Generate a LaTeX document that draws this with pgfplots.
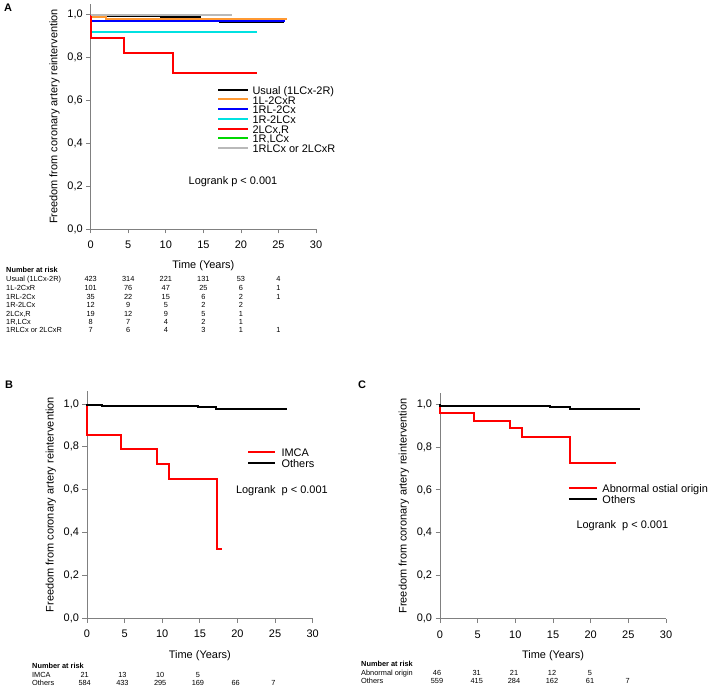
\documentclass[border=0pt]{standalone}
\usepackage{fontspec}
\setmainfont{Liberation Sans}
\usepackage{pgfplots}
\pgfplotsset{compat=1.18}
\definecolor{korange}{RGB}{255,153,51}
\definecolor{kblue}{RGB}{0,0,255}
\definecolor{kcyan}{RGB}{0,225,225}
\definecolor{kred}{RGB}{255,0,0}
\definecolor{kgreen}{RGB}{0,215,0}
\definecolor{kgray}{RGB}{185,185,185}
\newcommand{\fs}{\fontsize{11}{13}\selectfont}
\newcommand{\ts}{\fontsize{7.4}{8.6}\selectfont}
\pgfplotsset{km/.style={
 scale only axis, xmin=0, xmax=30, ymin=0,
 axis x line*=bottom, axis y line*=left,
 axis line style={black!50, line width=0.8bp},
 every tick/.style={black!50, line width=0.8bp},
 tick align=outside, major tick length=4.5bp,
 xtick={0,5,10,15,20,25,30}, ytick={0,0.2,0.4,0.6,0.8,1.0},
 tick label style={font=\fs},
 xticklabel style={yshift=-4bp},
 /pgf/number format/assume math mode=true,
 yticklabel style={/pgf/number format/.cd, fixed, fixed zerofill, precision=1, use comma},
 xlabel={Time (Years)}, ylabel={Freedom from coronary artery reintervention},
 label style={font=\fs},
 xlabel style={at={(axis description cs:0.5,-0.165)}, anchor=center},
 ylabel style={at={(axis description cs:-0.16,0.5)}, anchor=center},
 clip=false,
 legend style={draw=none, fill=none, inner sep=0pt, outer sep=0pt, anchor=north west, font=\fs,
   nodes={inner sep=0.5bp, text height=7.5bp, text depth=1.2bp}},
 legend cell align=left,
 every axis plot/.append style={line width=2bp},
}}
\begin{document}
\begin{tikzpicture}
\useasboundingbox (0,0) rectangle (709bp,686bp);
% ---------------- Panel A
\begin{axis}[km, at={(90.7bp,457bp)}, anchor=origin, width=225.3bp, height=225bp, ymax=1.05,
  legend style={at={(axis cs:16.82,0.665)}, column sep=3bp},
  legend image code/.code={\draw[#1] (0bp,1.6bp) -- (30bp,1.6bp);}]
\addplot[const plot, black] coordinates {(0,1) (0,0.995) (9.3,0.991) (14.6,0.981) (17.2,0.965) (25.8,0.965)};
\addlegendentry{Usual (1LCx-2R)}
\addplot[const plot, korange] coordinates {(0,1) (0,0.990) (2.0,0.978) (26.2,0.978)};
\addlegendentry{1L-2CxR}
\addplot[const plot, kblue] coordinates {(0,1) (0,0.971) (25.9,0.971)};
\addlegendentry{1RL-2Cx}
\addplot[const plot, kcyan] coordinates {(0,1) (0,0.917) (22.2,0.917)};
\addlegendentry{1R-2LCx}
\addplot[const plot, kred] coordinates {(0,1) (0,0.889) (4.5,0.821) (10.9,0.729) (22.2,0.729)};
\addlegendentry{2LCx,R}
\addplot[const plot, kgreen] coordinates {(0,1) (16.5,1)};
\addlegendentry{1R,LCx}
\addplot[const plot, kgray] coordinates {(0,1) (18.8,1)};
\addlegendentry{1RLCx or 2LCxR}
\end{axis}
% ---------------- Panel B
\begin{axis}[km, at={(87bp,67.7bp)}, anchor=origin, width=225.7bp, height=227.2bp, ymax=1.06,
  legend style={at={(axis cs:21.27,0.792)}, column sep=5bp, row sep=1.7bp},
  legend image code/.code={\draw[#1] (0bp,1.6bp) -- (27bp,1.6bp);}]
\addplot[const plot, kred] coordinates {(0,1) (0,0.857) (4.5,0.792) (9.3,0.722) (10.9,0.649) (17.3,0.323) (17.9,0.323)};
\addlegendentry{IMCA}
\addplot[const plot, black] coordinates {(0,1) (0,0.994) (2.0,0.991) (14.7,0.986) (17.2,0.978) (26.6,0.978)};
\addlegendentry{Others}
\end{axis}
% ---------------- Panel C
\begin{axis}[km, at={(440bp,67.3bp)}, anchor=origin, width=226bp, height=225.4bp, ymax=1.05,
  legend style={at={(axis cs:16.99,0.626)}, column sep=4bp, row sep=1.3bp},
  legend image code/.code={\draw[#1] (0bp,1.6bp) -- (28bp,1.6bp);}]
\addplot[const plot, kred] coordinates {(0,1) (0,0.957) (4.5,0.922) (9.3,0.887) (10.9,0.846) (17.3,0.725) (23.4,0.725)};
\addlegendentry{Abnormal ostial origin}
\addplot[const plot, black] coordinates {(0,1) (0,0.992) (2.0,0.989) (14.6,0.984) (17.3,0.975) (26.6,0.975)};
\addlegendentry{Others}
\end{axis}
% ---------------- annotations
\node[font=\fontsize{11}{13}\selectfont\bfseries] at (8bp,678bp) {A};
\node[font=\fontsize{11}{13}\selectfont\bfseries] at (9bp,301bp) {B};
\node[font=\fontsize{11}{13}\selectfont\bfseries] at (362bp,301bp) {C};
\node[font=\fs] at (233bp,504.3bp) {Logrank p < 0.001};
\node[font=\fs] at (281.9bp,195bp) {Logrank\ \ p < 0.001};
\node[font=\fs] at (622.4bp,160.7bp) {Logrank\ \ p < 0.001};
% ---------------- Number at risk A
\begin{scope}[every node/.style={font=\ts, inner sep=0pt}]
\node[anchor=base west, font=\ts\bfseries] at (6bp,413.05bp) {Number at risk};
\foreach \lab/\yy/\a/\b/\c/\d/\e/\f in {
 Usual (1LCx-2R)/404.35/423/314/221/131/53/4,
 1L-2CxR/395.65/101/76/47/25/6/1,
 1RL-2Cx/386.65/35/22/15/6/2/1,
 1R-2LCx/378.35/12/9/5/2/2/{},
 {2LCx,R}/369.65/19/12/9/5/1/{},
 {1R,LCx}/361.65/8/7/4/2/1/{},
 1RLCx or 2LCxR/353.05/7/6/4/3/1/1}{
 \node[anchor=base west] at (6bp,\yy bp) {\lab};
 \node[anchor=base] at (90.7bp,\yy bp) {\a};
 \node[anchor=base] at (128.25bp,\yy bp) {\b};
 \node[anchor=base] at (165.8bp,\yy bp) {\c};
 \node[anchor=base] at (203.35bp,\yy bp) {\d};
 \node[anchor=base] at (240.9bp,\yy bp) {\e};
 \node[anchor=base] at (278.45bp,\yy bp) {\f};
}
% B
\node[anchor=base west, font=\ts\bfseries] at (32bp,17.65bp) {Number at risk};
\foreach \lab/\yy/\a/\b/\c/\d/\e/\f in {
 IMCA/8.65/21/13/10/5/{}/{},
 Others/0.65/584/433/295/169/66/7}{
 \node[anchor=base west] at (32bp,\yy bp) {\lab};
 \node[anchor=base] at (84.7bp,\yy bp) {\a};
 \node[anchor=base] at (122.4bp,\yy bp) {\b};
 \node[anchor=base] at (160.2bp,\yy bp) {\c};
 \node[anchor=base] at (197.9bp,\yy bp) {\d};
 \node[anchor=base] at (235.7bp,\yy bp) {\e};
 \node[anchor=base] at (273.5bp,\yy bp) {\f};
}
% C
\node[anchor=base west, font=\ts\bfseries] at (361bp,19.65bp) {Number at risk};
\foreach \lab/\yy/\a/\b/\c/\d/\e/\f in {
 Abnormal origin/10.65/46/31/21/12/5/{},
 Others/2.35/559/415/284/162/61/7}{
 \node[anchor=base west] at (361bp,\yy bp) {\lab};
 \node[anchor=base] at (437bp,\yy bp) {\a};
 \node[anchor=base] at (476.7bp,\yy bp) {\b};
 \node[anchor=base] at (514bp,\yy bp) {\c};
 \node[anchor=base] at (552bp,\yy bp) {\d};
 \node[anchor=base] at (590bp,\yy bp) {\e};
 \node[anchor=base] at (627.7bp,\yy bp) {\f};
}
\end{scope}
\end{tikzpicture}
\end{document}
